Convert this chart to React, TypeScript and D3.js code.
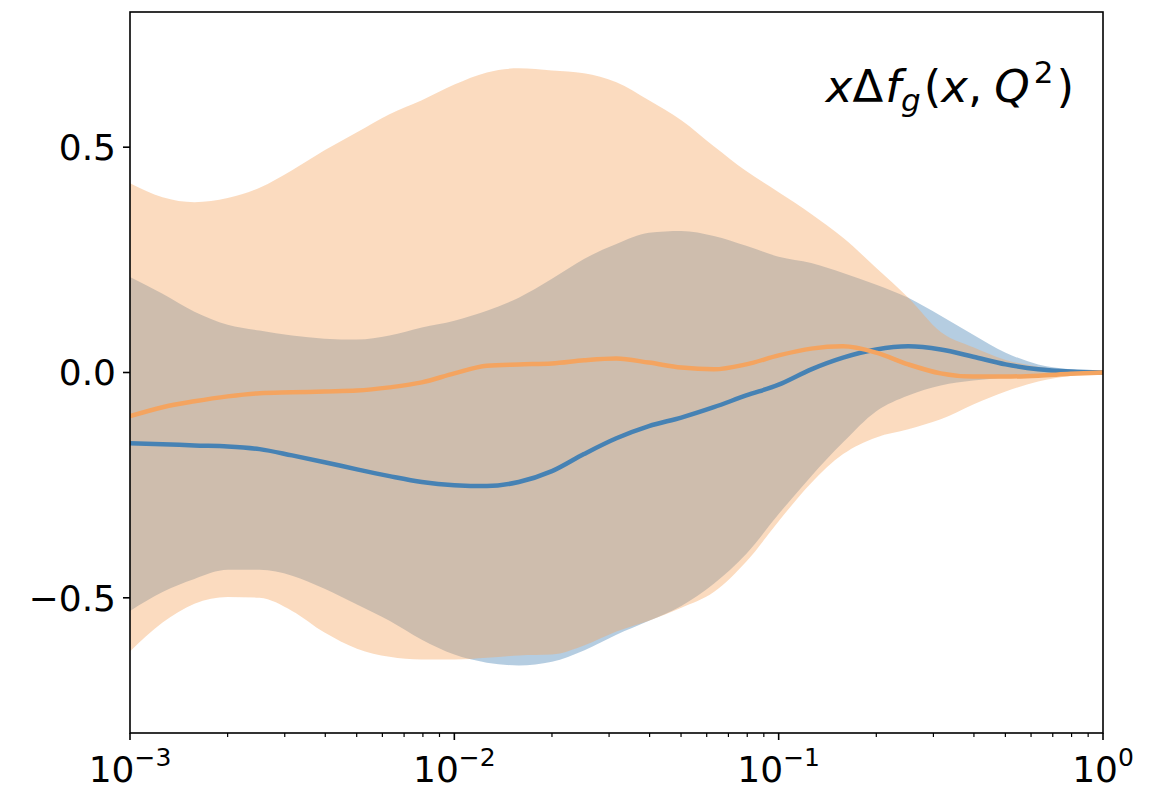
import React from "react";
import * as d3 from "d3";

const xs = [0.001, 0.00126, 0.00158, 0.002, 0.00251, 0.00316, 0.00398, 0.00501, 0.00631, 0.00794,
  0.01, 0.0126, 0.0158, 0.02, 0.0251, 0.0316, 0.0398, 0.0501, 0.0631, 0.0794,
  0.1, 0.126, 0.158, 0.2, 0.251, 0.316, 0.398, 0.501, 0.631, 0.794, 1.0];

const orangeUpper = [0.42, 0.389, 0.378, 0.387, 0.41, 0.449, 0.493, 0.533, 0.573, 0.604, 0.639, 0.666, 0.675, 0.67, 0.664, 0.644, 0.604, 0.56, 0.502, 0.447, 0.4, 0.352, 0.299, 0.232, 0.166, 0.09, 0.056, 0.028, 0.013, 0.004, 0];
const orangeLower = [-0.619, -0.555, -0.513, -0.498, -0.5, -0.529, -0.577, -0.613, -0.631, -0.637, -0.637, -0.633, -0.628, -0.626, -0.606, -0.575, -0.551, -0.522, -0.487, -0.42, -0.33, -0.245, -0.181, -0.144, -0.126, -0.104, -0.071, -0.042, -0.02, -0.007, 0];
const blueUpper = [0.212, 0.175, 0.135, 0.106, 0.093, 0.082, 0.075, 0.073, 0.082, 0.1, 0.115, 0.137, 0.166, 0.208, 0.252, 0.285, 0.31, 0.314, 0.303, 0.281, 0.257, 0.243, 0.221, 0.195, 0.166, 0.126, 0.084, 0.044, 0.018, 0.007, 0];
const blueLower = [-0.529, -0.487, -0.458, -0.438, -0.438, -0.451, -0.48, -0.515, -0.551, -0.593, -0.626, -0.644, -0.65, -0.642, -0.617, -0.582, -0.551, -0.518, -0.469, -0.403, -0.314, -0.23, -0.155, -0.086, -0.051, -0.029, -0.018, -0.011, -0.007, -0.002, 0];
const blueLine = [-0.157, -0.159, -0.162, -0.164, -0.17, -0.184, -0.199, -0.215, -0.23, -0.243, -0.25, -0.252, -0.243, -0.219, -0.181, -0.146, -0.119, -0.1, -0.077, -0.051, -0.027, 0.007, 0.033, 0.051, 0.058, 0.051, 0.035, 0.018, 0.007, 0.002, 0];
const orangeLine = [-0.097, -0.077, -0.064, -0.053, -0.046, -0.044, -0.042, -0.04, -0.033, -0.022, -0.002, 0.015, 0.018, 0.02, 0.027, 0.031, 0.022, 0.011, 0.007, 0.018, 0.038, 0.053, 0.058, 0.044, 0.018, -0.002, -0.009, -0.009, -0.007, -0.003, 0];

const yTicks = [-0.5, 0.0, 0.5];
const xMajorTicks = [0.001, 0.01, 0.1, 1];
const xMajorExps = ["\u22123", "\u22122", "\u22121", "0"];

const W = 1170, H = 791;
const L = 130, R = 1103, T = 12, B = 733;
const FONT = "DejaVu Sans";

export default function App() {
  const x = d3.scaleLog().domain([0.001, 1]).range([L, R]);
  const y = d3.scaleLinear().domain([-0.8, 0.8]).range([B, T]);

  const area = (lo: number[], hi: number[]) =>
    d3.area<number>()
      .x((_, i) => x(xs[i]))
      .y0((_, i) => y(lo[i]))
      .y1((_, i) => y(hi[i]))
      .curve(d3.curveMonotoneX)(xs) || "";
  const line = (v: number[]) =>
    d3.line<number>()
      .x((_, i) => x(xs[i]))
      .y((_, i) => y(v[i]))
      .curve(d3.curveMonotoneX)(xs) || "";

  const minor: number[] = [];
  [0.001, 0.01, 0.1].forEach((d) => {
    for (let k = 2; k <= 9; k++) minor.push(d * k);
  });

  return (
    <svg width={W} height={H} style={{ position: "absolute", left: 0, top: 0, display: "block", background: "#fff" }}>
      <defs>
        <clipPath id="plot">
          <rect x={L} y={T} width={R - L} height={B - T} />
        </clipPath>
      </defs>
      <g clipPath="url(#plot)">
        <path d={area(blueLower, blueUpper)} fill="steelblue" fillOpacity={0.4} />
        <path d={area(orangeLower, orangeUpper)} fill="sandybrown" fillOpacity={0.4} />
        <path d={line(blueLine)} fill="none" stroke="steelblue" strokeWidth={4.5} />
        <path d={line(orangeLine)} fill="none" stroke="sandybrown" strokeWidth={4.5} />
      </g>
      <rect x={L} y={T} width={R - L} height={B - T} fill="none" stroke="#000" strokeWidth={1.6} />
      {yTicks.map((t) => (
        <g key={t}>
          <line x1={L - 7} x2={L} y1={y(t)} y2={y(t)} stroke="#000" strokeWidth={1.6} />
          <text x={L - 14} y={y(t)} dy="0.36em" textAnchor="end" fontFamily={FONT} fontSize={36} fill="#000">
            {t === 0 ? "0.0" : (t < 0 ? "\u2212" : "") + Math.abs(t).toFixed(1)}
          </text>
        </g>
      ))}
      {minor.map((t) => (
        <line key={t} x1={x(t)} x2={x(t)} y1={B} y2={B + 4} stroke="#000" strokeWidth={1.2} />
      ))}
      {xMajorTicks.map((t, i) => (
        <g key={t}>
          <line x1={x(t)} x2={x(t)} y1={B} y2={B + 7} stroke="#000" strokeWidth={1.6} />
          <text x={x(t)} y={782} textAnchor="middle" fontFamily={FONT} fontSize={36} fill="#000">
            <tspan>10</tspan>
            <tspan fontSize={25} dy={-16}>{xMajorExps[i]}</tspan>
          </text>
        </g>
      ))}
      <text x={1074} y={102} textAnchor="end" fontFamily={FONT} fontSize={45} fill="#000">
        <tspan fontStyle="italic">x</tspan>
        <tspan>Δ</tspan>
        <tspan fontStyle="italic" dx={2}>f</tspan>
        <tspan fontStyle="italic" fontSize={31} dy={9}>g</tspan>
        <tspan dy={-9} dx={3}>(</tspan>
        <tspan fontStyle="italic">x</tspan>
        <tspan>,</tspan>
        <tspan fontStyle="italic" dx={12}>Q</tspan>
        <tspan fontSize={31} dy={-19} dx={4}>2</tspan>
        <tspan dy={19} dx={3}>)</tspan>
      </text>
    </svg>
  );
}
